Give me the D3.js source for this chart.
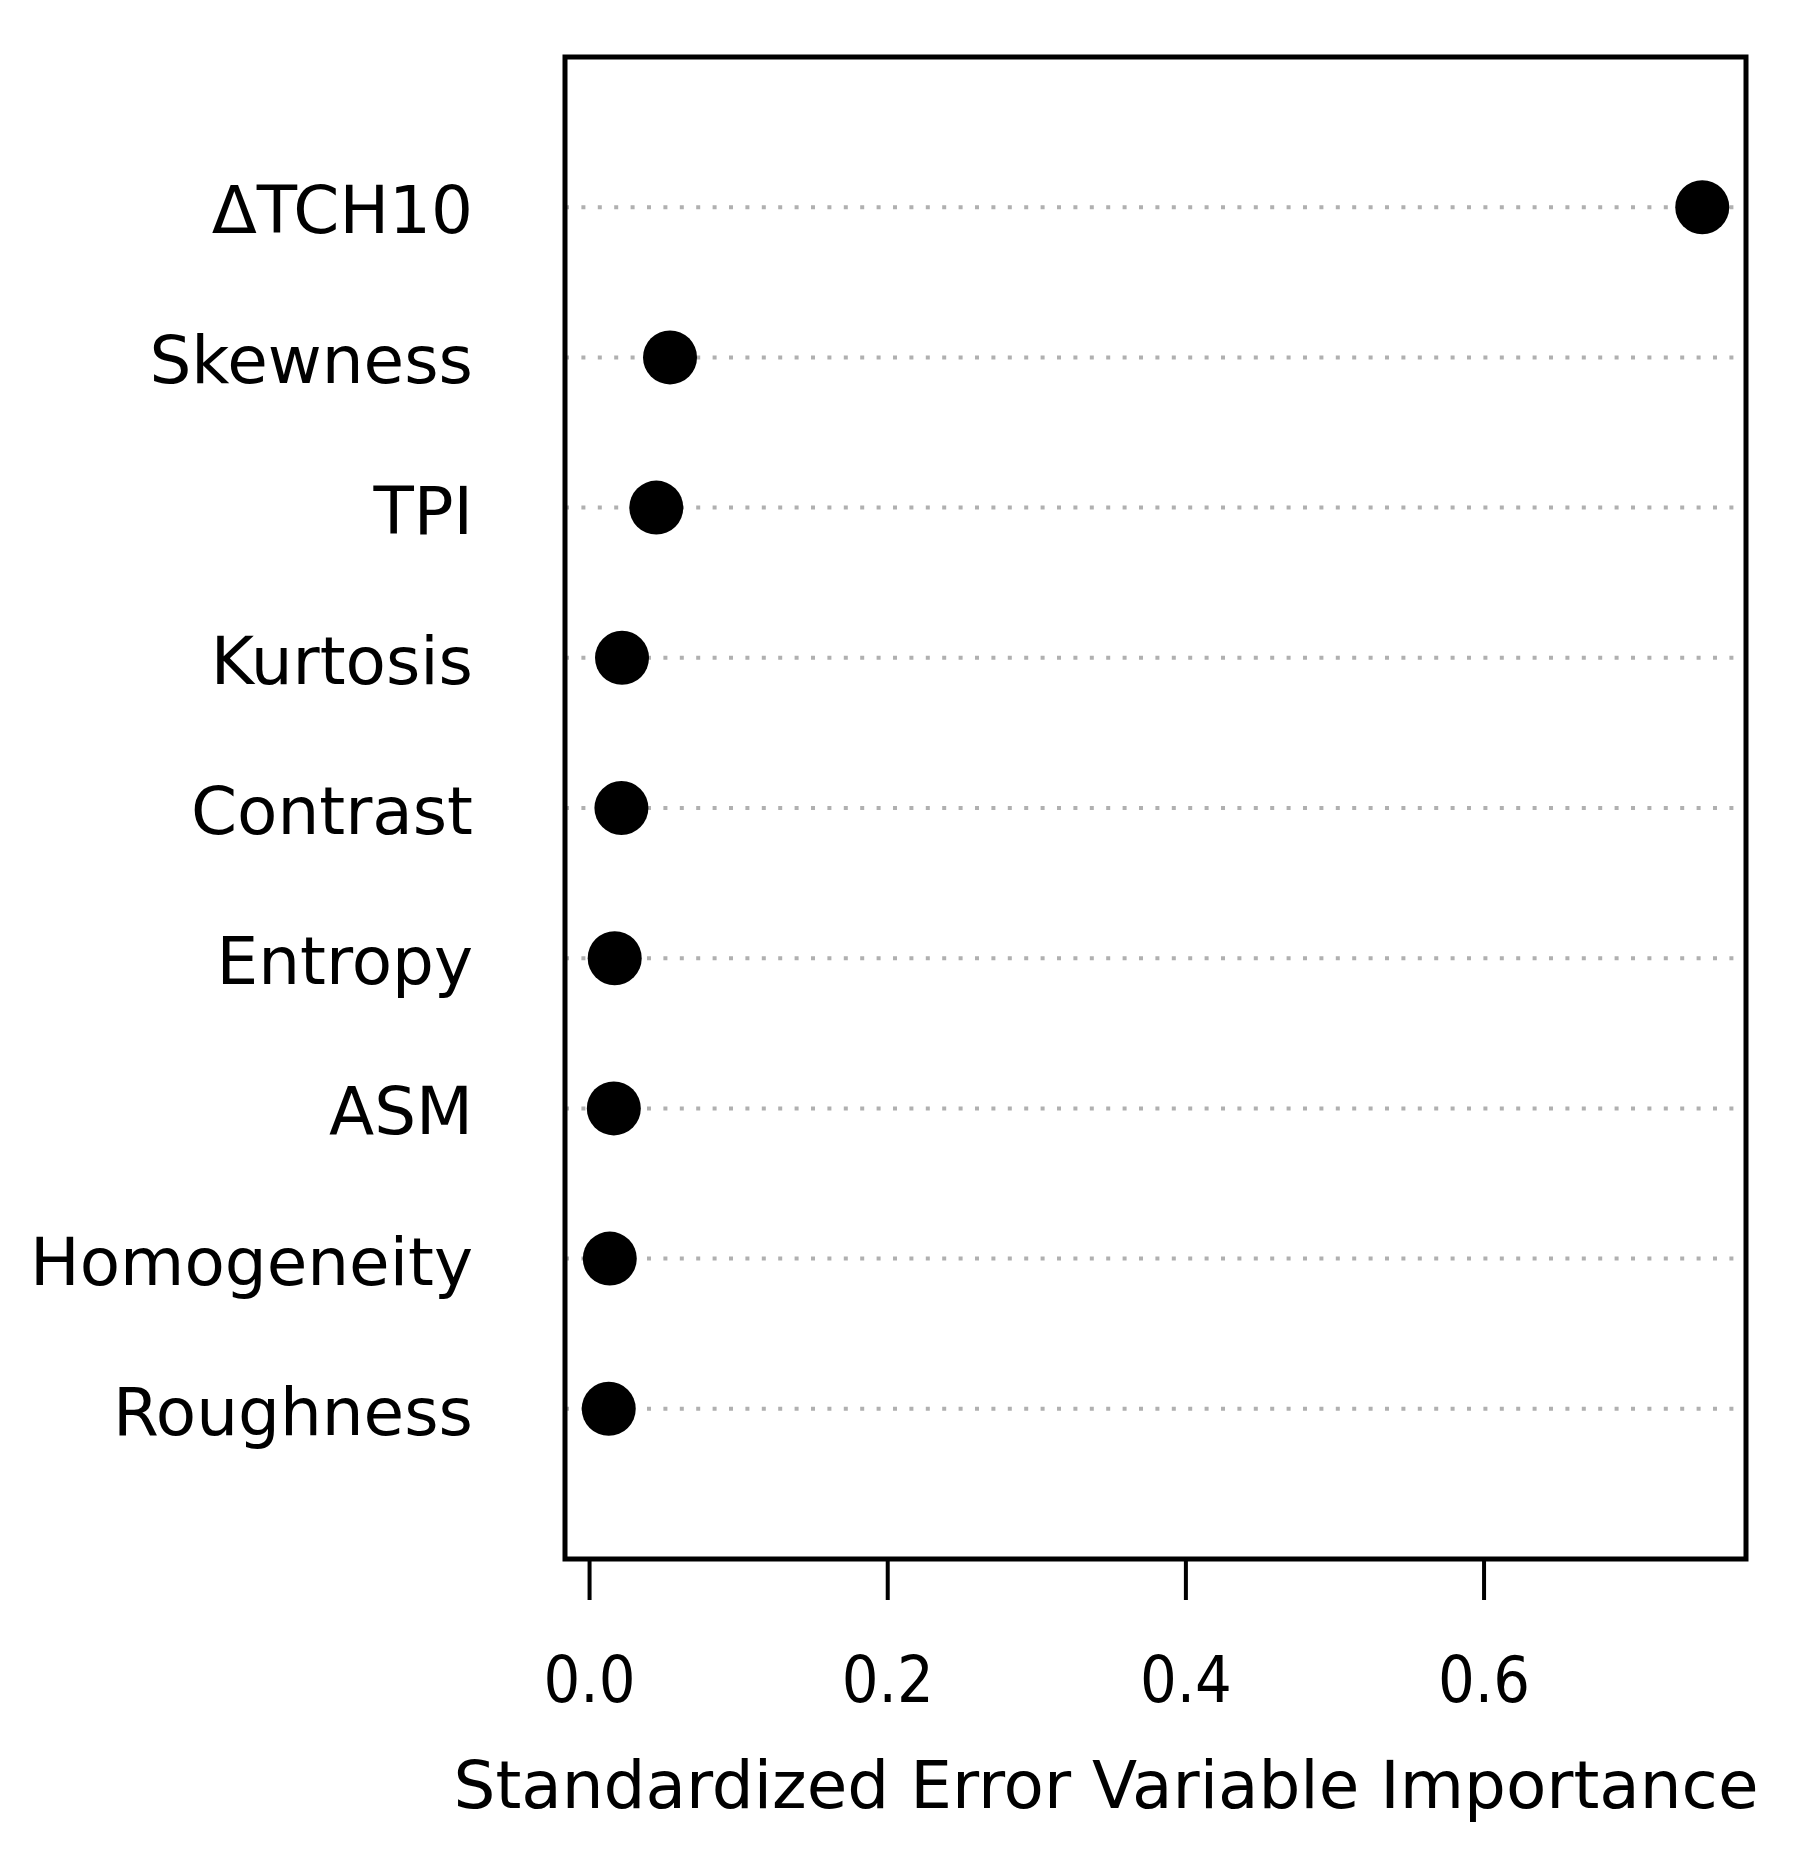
<!DOCTYPE html>
<html>
<head>
<meta charset="utf-8">
<script src="https://cdn.jsdelivr.net/npm/d3@7"></script>
<style>
  html, body { margin: 0; padding: 0; background: #ffffff; }
  svg { display: block; }
</style>
</head>
<body>
<svg id="chart" width="1794" height="1868"></svg>
<script>
// Data (top to bottom as drawn)
const categories = ["ΔTCH10", "Skewness", "TPI", "Kurtosis", "Contrast", "Entropy", "ASM", "Homogeneity", "Roughness"];
const values = [0.7467, 0.0543, 0.0451, 0.0221, 0.0217, 0.0172, 0.0166, 0.0139, 0.0132];
const tickValues = [0, 0.2, 0.4, 0.6];
const xTitle = "Standardized Error Variable Importance";

const svg = d3.select("#chart");
const font = "'DejaVu Sans', Verdana, sans-serif";

const box = { left: 565, right: 1746, top: 57, bottom: 1559 };

// R dotchart style: xlim extended by 4% of range
const vmin = d3.min(values), vmax = d3.max(values);
const pad = (vmax - vmin) * 0.04;
const x = d3.scaleLinear().domain([vmin - pad, vmax + pad]).range([box.left, box.right]);
// y: positions 1..n, ylim 0..n+1; first category at top
const n = categories.length;
const y = d3.scaleLinear().domain([0, n + 1]).range([box.bottom, box.top]);
const rowPos = (i) => y(n - i);

// dotted guide lines
svg.append("g").selectAll("line").data(categories).join("line")
  .attr("x1", box.left).attr("x2", box.right)
  .attr("y1", (d, i) => rowPos(i)).attr("y2", (d, i) => rowPos(i))
  .attr("stroke", "#b0b0b0").attr("stroke-width", 4)
  .attr("stroke-dasharray", "4,12.4");

// points
svg.append("g").selectAll("circle").data(values).join("circle")
  .attr("cx", d => x(d)).attr("cy", (d, i) => rowPos(i))
  .attr("r", 27).attr("fill", "#000");

// category labels
svg.append("g").selectAll("text").data(categories).join("text")
  .attr("x", 473).attr("y", (d, i) => rowPos(i) + 26)
  .attr("text-anchor", "end")
  .attr("font-family", font).attr("font-size", 66).attr("fill", "#000")
  .text(d => d);

// box
svg.append("rect")
  .attr("x", box.left).attr("y", box.top)
  .attr("width", box.right - box.left).attr("height", box.bottom - box.top)
  .attr("fill", "none").attr("stroke", "#000").attr("stroke-width", 5);

// x axis
const axis = d3.axisBottom(x).tickValues(tickValues).tickFormat(d3.format(".1f")).tickSize(40).tickSizeOuter(0);
const gx = svg.append("g").attr("transform", `translate(0,${box.bottom + 1})`).call(axis);
gx.select(".domain").remove();
gx.selectAll(".tick line").attr("stroke", "#000").attr("stroke-width", 4);
gx.selectAll(".tick text")
  .attr("y", 142).attr("dy", null)
  .attr("font-family", font).attr("font-size", 64).attr("fill", "#000")
  .attr("textLength", 92).attr("lengthAdjust", "spacingAndGlyphs");

// x title
svg.append("text")
  .attr("x", 1106).attr("y", 1808)
  .attr("text-anchor", "middle")
  .attr("font-family", font).attr("font-size", 66).attr("fill", "#000")
  .text(xTitle);
</script>
</body>
</html>
